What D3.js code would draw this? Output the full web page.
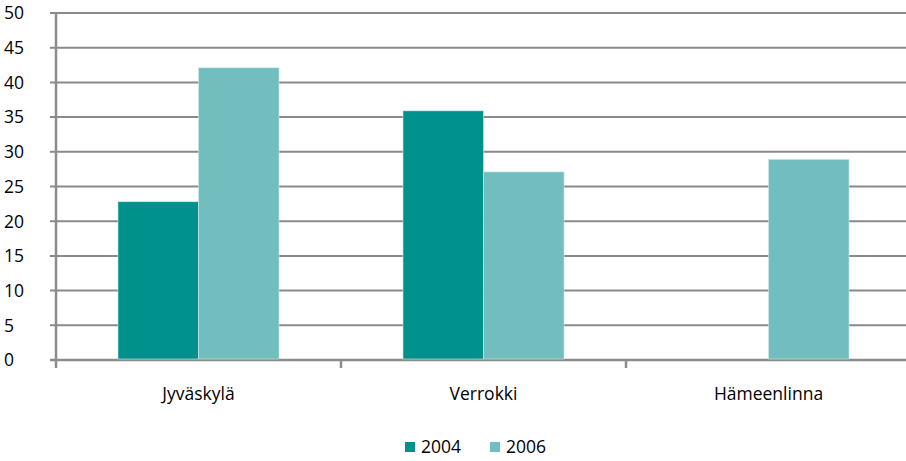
<!DOCTYPE html>
<html>
<head>
<meta charset="utf-8">
<script src="https://cdn.jsdelivr.net/npm/d3@7"></script>
<style>
  body { margin: 0; background: #fff; }
  text { font-family: "Open Sans", "Noto Sans", sans-serif; fill: #000; }
</style>
</head>
<body>
<script>
// data
const categories = ["Jyväskylä", "Verrokki", "Hämeenlinna"];
const seriesNames = ["2004", "2006"];
const values2004 = [22.8, 35.9, null];
const values2006 = [42.1, 27.1, 28.9];
const yTicks = [0, 5, 10, 15, 20, 25, 30, 35, 40, 45, 50];

const colors = ["#00918c", "#72bdbe"];

// svg size
const w = 906;
const h = 461;

// plot area
const plotLeft = 56;
const plotRight = 911;
const plotTop = 13;
const plotBottom = 360;
const fontSize = 17.5;

const svg = d3.select("body").append("svg").attr("width", w).attr("height", h);

const y = d3.scaleLinear().domain([0, 50]).range([plotBottom, plotTop]);
const x0 = d3.scaleBand().domain(categories).range([plotLeft, plotRight]).padding(0);
const gap = x0.bandwidth() * 0.435;
const x1 = d3.scaleBand().domain(seriesNames).range([gap / 2, x0.bandwidth() - gap / 2]).padding(0);

// gridlines + y labels
svg.append("g")
  .selectAll("line")
  .data(yTicks)
  .enter()
  .append("line")
  .attr("x1", plotLeft - 6)
  .attr("x2", plotRight)
  .attr("y1", (d) => y(d))
  .attr("y2", (d) => y(d))
  .attr("stroke", (d) => (d === 0 ? "#8c8c8c" : "#8a8a8e"))
  .attr("stroke-width", (d) => (d === 0 ? 2.5 : 2));

svg.append("g")
  .selectAll("text")
  .data(yTicks)
  .enter()
  .append("text")
  .attr("x", 4)
  .attr("y", (d) => y(d))
  .attr("dy", "0.36em")
  .attr("font-size", fontSize)
  .text((d) => d);

// y axis line
svg.append("line")
  .attr("x1", plotLeft).attr("x2", plotLeft)
  .attr("y1", plotTop).attr("y2", plotBottom + 8)
  .attr("stroke", "#8c8c8c").attr("stroke-width", 2.5);

// category ticks
svg.append("g")
  .selectAll("line")
  .data(categories.slice(1))
  .enter()
  .append("line")
  .attr("x1", (d) => x0(d))
  .attr("x2", (d) => x0(d))
  .attr("y1", plotBottom)
  .attr("y2", plotBottom + 8)
  .attr("stroke", "#8c8c8c")
  .attr("stroke-width", 2.5);

// bars
const rows = categories.map((c, i) => ({ cat: c, vals: [values2004[i], values2006[i]] }));

const groups = svg.selectAll("g.cat")
  .data(rows)
  .enter()
  .append("g")
  .attr("class", "cat")
  .attr("transform", (d) => `translate(${x0(d.cat)},0)`);

groups.selectAll("rect")
  .data((d) => d.vals.map((v, j) => ({ v: v, s: seriesNames[j], c: colors[j] })).filter((e) => e.v !== null))
  .enter()
  .append("rect")
  .attr("x", (d) => x1(d.s))
  .attr("y", (d) => y(d.v))
  .attr("width", x1.bandwidth())
  .attr("height", (d) => plotBottom - 1 - y(d.v))
  .attr("fill", (d) => d.c)
  .attr("stroke", "#cfe8e8")
  .attr("stroke-width", 0.6);

// category labels
svg.append("g")
  .selectAll("text")
  .data(categories)
  .enter()
  .append("text")
  .attr("x", (d) => x0(d) + x0.bandwidth() / 2)
  .attr("y", 394)
  .attr("dy", "0.36em")
  .attr("text-anchor", "middle")
  .attr("font-size", fontSize)
  .text((d) => d);

// legend
const legendX = [405, 490];
const legend = svg.append("g")
  .selectAll("g")
  .data(seriesNames)
  .enter()
  .append("g")
  .attr("transform", (d, i) => `translate(${legendX[i]},447)`);

legend.append("rect")
  .attr("x", 0).attr("y", -5)
  .attr("width", 10).attr("height", 10)
  .attr("fill", (d, i) => colors[i]);

legend.append("text")
  .attr("x", 16)
  .attr("dy", "0.36em")
  .attr("font-size", fontSize)
  .text((d) => d);
</script>
</body>
</html>
